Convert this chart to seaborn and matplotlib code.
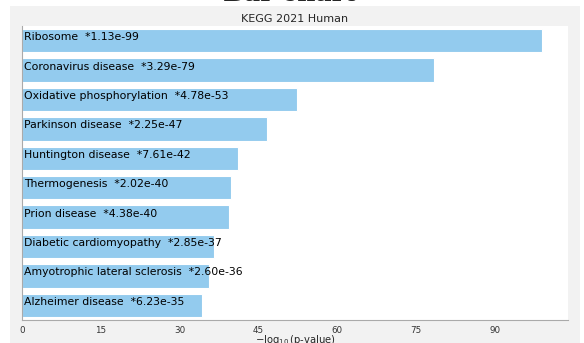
import matplotlib
matplotlib.use("Agg")
import matplotlib.pyplot as plt
import matplotlib.patches as mpatches
import seaborn as sns
import pandas as pd

# Enrichment results (KEGG 2021 Human)
terms = [
    "Ribosome",
    "Coronavirus disease",
    "Oxidative phosphorylation",
    "Parkinson disease",
    "Huntington disease",
    "Thermogenesis",
    "Prion disease",
    "Diabetic cardiomyopathy",
    "Amyotrophic lateral sclerosis",
    "Alzheimer disease",
]
neg_log10_p = [98.95, 78.48, 52.32, 46.65, 41.12, 39.69, 39.36, 36.55, 35.59, 34.21]
p_labels = ["1.13e-99", "3.29e-79", "4.78e-53", "2.25e-47", "7.61e-42",
            "2.02e-40", "4.38e-40", "2.85e-37", "2.60e-36", "6.23e-35"]
x_ticks = [0, 15, 30, 45, 60, 75, 90]

df = pd.DataFrame({"term": terms, "score": neg_log10_p, "p": p_labels})

sns.set_style("white")
plt.rcParams["font.family"] = ["DejaVu Sans"]

W, H = 584, 343
fig = plt.figure(figsize=(W / 100, H / 100), dpi=100, facecolor="white")

# light gray panel behind the axes
fig.patches.append(mpatches.Rectangle((10 / W, 0), (580 - 10) / W, (H - 6) / H,
                                      transform=fig.transFigure, facecolor="#f2f2f2",
                                      edgecolor="none", zorder=-5))

fig.text(290 / W, 1.0 - 1 / H, "Bar chart", ha="center", va="baseline",
         fontsize=18, fontweight="bold", family="DejaVu Serif", zorder=-4)

ax = fig.add_axes([22 / W, (H - 320) / H, (568 - 22) / W, (320 - 26) / H])
ax.set_facecolor("white")
ax.set_zorder(1)

sns.barplot(data=df, x="score", y="term", orient="h", color="#93cbee",
            saturation=1, width=0.8, edgecolor="white", linewidth=0.8, ax=ax)

for i, (t, p) in enumerate(zip(df["term"], df["p"])):
    ax.text(0.4, i - 0.12, f"{t}  *{p}", va="center", ha="left", fontsize=7.8, color="black")

ax.set_xlim(0, max(neg_log10_p) * 1.05)
ax.set_ylim(9.5, -0.5)
ax.set_xticks(x_ticks)
ax.tick_params(axis="x", labelsize=6.3, length=2, width=0.6, pad=2, colors="#333333")
ax.set_yticks([])
ax.set_ylabel("")
ax.set_xlabel(r"$-\log_{10}$(p-value)", fontsize=7.2, labelpad=-1)
ax.set_title("KEGG 2021 Human", fontsize=8, pad=3)

for s in ["top", "right"]:
    ax.spines[s].set_visible(False)
for s in ["left", "bottom"]:
    ax.spines[s].set_color("#aaaaaa")
    ax.spines[s].set_linewidth(0.8)

fig.savefig("out.png", dpi=100, facecolor="white")
